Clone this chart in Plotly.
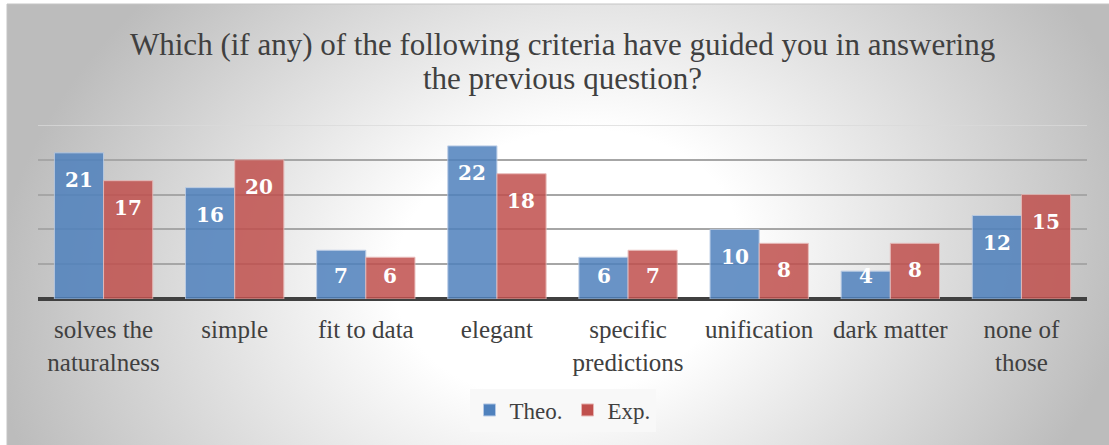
import base64
import plotly.graph_objects as go

# data
categories = ['solves the<br>naturalness', 'simple', 'fit to data', 'elegant',
              'specific<br>predictions', 'unification', 'dark matter', 'none of<br>those']
theo = [21, 16, 7, 22, 6, 10, 4, 12]
exp_ = [17, 20, 6, 18, 7, 8, 8, 15]
title_lines = ['Which (if any) of the following criteria have guided you in answering',
               'the previous question?']

W, H = 1109, 445
L, R, T, B = 38, 22, 125, 146
PW, PH = W - L - R, H - T - B

FONT = 'Liberation Serif'
TXT = '#404040'


def px(x):
    return (x - L) / PW


def py(y):
    return (H - B - y) / PH


# radial grey background like the Excel chart area
BW, BH = W - 7, H - 4
svg = f'''<svg xmlns="http://www.w3.org/2000/svg" width="{BW}" height="{BH}" preserveAspectRatio="none">
<defs><radialGradient id="g" gradientUnits="userSpaceOnUse" cx="0" cy="0" r="1"
 gradientTransform="translate(560 260) rotate(-12) scale(580 440)">
<stop offset="0" stop-color="#ffffff"/><stop offset="0.3" stop-color="#ffffff"/>
<stop offset="1" stop-color="#bcbcbc"/>
</radialGradient></defs>
<rect width="{BW}" height="{BH}" fill="url(#g)"/></svg>'''
bg_src = 'data:image/svg+xml;base64,' + base64.b64encode(svg.encode()).decode()

fig = go.Figure()

fig.add_trace(go.Bar(
    x=categories, y=theo, name='Theo.',
    marker=dict(color='#4f81bd', opacity=0.85, line=dict(color='#b4c8e4', width=1)),
    hoverinfo='skip'
))
fig.add_trace(go.Bar(
    x=categories, y=exp_, name='Exp.',
    marker=dict(color='#c0504d', opacity=0.85, line=dict(color='#e6b4b2', width=1)),
    hoverinfo='skip'
))

# value labels, white bold near top of each bar
for series, shift in ((theo, -24.5), (exp_, 24.5)):
    for cat, v in zip(categories, series):
        fig.add_annotation(
            x=cat, y=max(v - 3.9, 3.3), xref='x', yref='y', xshift=shift,
            text=str(v), showarrow=False, yanchor='middle',
            font=dict(family='DejaVu Serif', size=20, color='white', weight='bold')
        )

# title, two lines
for line, yc in zip(title_lines, (45, 78)):
    fig.add_annotation(
        x=0.5, y=py(yc), xref='paper', yref='paper', text=line,
        showarrow=False, xanchor='center', yanchor='middle',
        font=dict(family=FONT, size=31, color=TXT)
    )

fig.add_layout_image(
    source=bg_src, xref='paper', yref='paper',
    x=px(7), y=py(4), sizex=BW / PW, sizey=BH / PH,
    xanchor='left', yanchor='top', sizing='stretch', layer='below'
)

# chart border (top and left visible)
fig.add_shape(type='rect', xref='paper', yref='paper',
              x0=px(7), x1=px(W + 2), y0=py(H + 2), y1=py(4),
              line=dict(color='#c4c4c4', width=1), layer='above')
# light top gridline
fig.add_shape(type='line', xref='paper', yref='y', x0=0, x1=1, y0=25, y1=25,
              line=dict(color='#dadada', width=1.5), layer='below')

fig.update_layout(
    width=W, height=H,
    margin=dict(l=L, r=R, t=T, b=B),
    paper_bgcolor='white',
    plot_bgcolor='rgba(0,0,0,0)',
    barmode='group', bargap=0.25, bargroupgap=0,
    font=dict(family=FONT, color=TXT),
    legend=dict(
        orientation='h', x=0.5, xanchor='center', y=py(410), yanchor='middle',
        bgcolor='#f8f8f8', font=dict(family=FONT, size=23, color=TXT),
        itemclick=False
    ),
    showlegend=True,
    hovermode=False
)

fig.update_xaxes(
    showgrid=False, showline=False, ticks='',
    tickfont=dict(family=FONT, size=25, color=TXT),
    ticklabelstandoff=13
)
fig.update_yaxes(
    range=[0, 25], tickvals=[5, 10, 15, 20], showticklabels=False,
    showgrid=True, gridcolor='#a6a6a6', gridwidth=1.5,
    zeroline=True, zerolinecolor='#404040', zerolinewidth=4,
    showline=False
)

fig.write_html("out.html", config={'displayModeBar': False},
               post_script="document.body.style.margin='0';")
